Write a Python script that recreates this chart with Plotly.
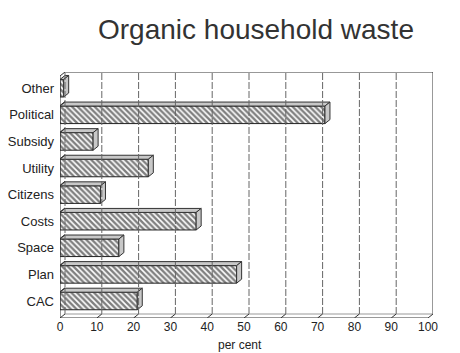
import plotly.graph_objects as go

categories = ["CAC", "Plan", "Space", "Costs", "Citizens", "Utility", "Subsidy", "Political", "Other"]
values = [21, 48, 16, 37, 11, 24, 9, 72, 1]
x_ticks = [0, 10, 20, 30, 40, 50, 60, 70, 80, 90, 100]

DX = 1.36   # depth offset in x units (~5px)
DY = 0.15   # depth offset in category units (~4px)
BW = 0.66   # bar thickness
YB, YT = -0.64, 8.61
XMAX = 100

line_col = "#333333"
face_col = "#c8c8c8"

fig = go.Figure()

shapes = []
# back wall frame (top and right)
shapes.append(dict(type="line", xref="x", yref="y", x0=DX, x1=XMAX + DX, y0=YT, y1=YT,
                   line=dict(color=line_col, width=1)))
shapes.append(dict(type="line", xref="x", yref="y", x0=XMAX + DX, x1=XMAX + DX, y0=YB + DY, y1=YT,
                   line=dict(color=line_col, width=1)))
for t in x_ticks[:-1]:
    shapes.append(dict(type="line", xref="x", yref="y", x0=t + DX, x1=t + DX, y0=YB + DY, y1=YT,
                       line=dict(color="#666666", width=1, dash="7px,2px")))
# floor back line
shapes.append(dict(type="line", xref="x", yref="y", x0=DX, x1=XMAX + DX, y0=YB + DY, y1=YB + DY,
                   line=dict(color="#999999", width=1)))
# floor front line
shapes.append(dict(type="line", xref="x", yref="y", x0=0, x1=XMAX, y0=YB, y1=YB,
                   line=dict(color=line_col, width=1)))
for t in x_ticks:
    shapes.append(dict(type="line", xref="x", yref="y", x0=t, x1=t + DX, y0=YB, y1=YB + DY,
                       line=dict(color=line_col, width=1)))
# left wall front line
shapes.append(dict(type="line", xref="x", yref="y", x0=0, x1=0, y0=YB, y1=YT - DY,
                   line=dict(color=line_col, width=1)))
shapes.append(dict(type="line", xref="x", yref="y", x0=0, x1=DX, y0=YT - DY, y1=YT,
                   line=dict(color=line_col, width=1)))
# category boundary ticks on the left wall
for i in range(len(categories)):
    yb = i + 0.5
    if yb < YT - DY:
        shapes.append(dict(type="line", xref="x", yref="y", x0=0, x1=DX, y0=yb - DY, y1=yb,
                           line=dict(color=line_col, width=1)))

# front faces with hatching
fig.add_trace(go.Bar(
    y=list(range(len(categories))), x=values, orientation="h", width=BW,
    marker=dict(color="white", line=dict(color="#222222", width=1),
                pattern=dict(shape="\\", fgcolor="#000000", bgcolor="white", size=4, solidity=0.6)),
    hoverinfo="skip", showlegend=False,
))

# top and side faces
for i, v in enumerate(values):
    yt = i + BW / 2
    yb = i - BW / 2
    fig.add_trace(go.Scatter(
        x=[0, v, v + DX, DX, 0], y=[yt, yt, yt + DY, yt + DY, yt],
        fill="toself", fillcolor=face_col, mode="lines",
        line=dict(color=line_col, width=1), hoverinfo="skip", showlegend=False))
    fig.add_trace(go.Scatter(
        x=[v, v + DX, v + DX, v, v], y=[yb, yb + DY, yt + DY, yt, yb],
        fill="toself", fillcolor=face_col, mode="lines",
        line=dict(color=line_col, width=1), hoverinfo="skip", showlegend=False))

fig.update_layout(
    width=460, height=353,
    margin=dict(l=60, r=27, t=72, b=35, autoexpand=False),
    paper_bgcolor="white", plot_bgcolor="white",
    font=dict(family="Liberation Sans, Arial, sans-serif", color="#222222"),
    title=dict(text="Organic household waste", x=256 / 460, xanchor="center",
               y=1 - 29 / 353, yanchor="middle", yref="container",
               font=dict(size=28, color="#333333")),
    shapes=shapes,
    showlegend=False,
)
fig.update_xaxes(range=[0, XMAX + DX], tickvals=x_ticks, ticktext=[str(t) for t in x_ticks],
                 showgrid=False, zeroline=False, showline=False, ticks="", automargin=False,
                 tickfont=dict(size=12, color="#222222"), fixedrange=True)
fig.update_yaxes(range=[YB, YT], tickvals=list(range(len(categories))), ticktext=categories,
                 showgrid=False, zeroline=False, showline=False, ticks="", automargin=False,
                 tickfont=dict(size=13, color="#222222"), ticklabelstandoff=5, fixedrange=True)
fig.add_annotation(text="per cent", xref="x", x=49, yref="paper", y=-27 / 246,
                   yanchor="middle", showarrow=False, font=dict(size=12, color="#222222"))

fig.write_html("out.html")
